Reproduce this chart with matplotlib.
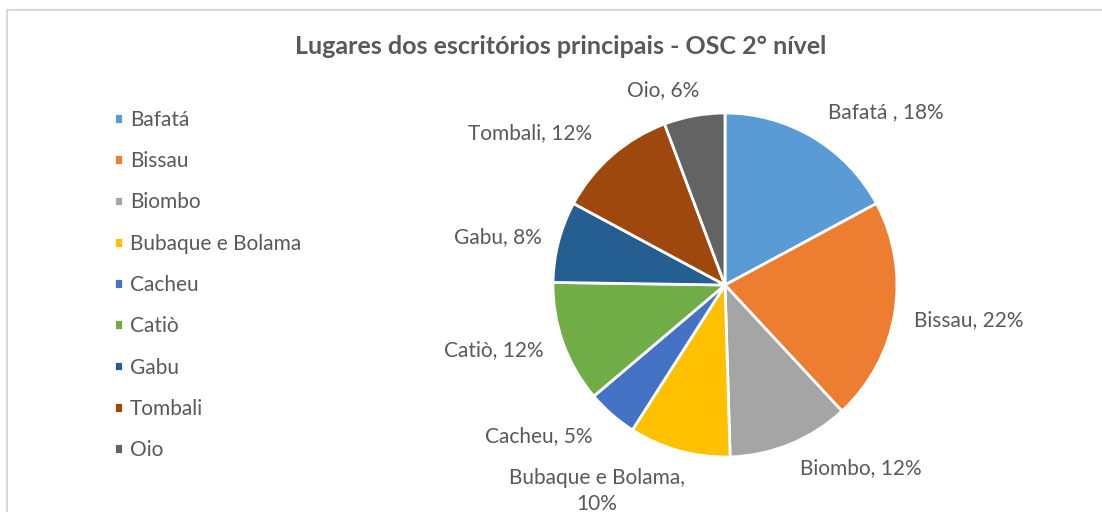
#!/usr/bin/env python3

import numpy as np
import matplotlib.pyplot as plt

plt.rcParams['font.family'] = ['Lato', 'DejaVu Sans']

# data
places = ['Bafatá', 'Bissau', 'Biombo', 'Bubaque e Bolama', 'Cacheu',
          'Catiò', 'Gabu', 'Tombali', 'Oio']
percent = [18, 22, 12, 10, 5, 12, 8, 12, 6]
label_texts = ['Bafatá , 18%', 'Bissau, 22%', 'Biombo, 12%',
               'Bubaque e Bolama,\n10%', 'Cacheu, 5%', 'Catiò, 12%',
               'Gabu, 8%', 'Tombali, 12%', 'Oio, 6%']

colors = ['#5B9BD5', '#ED7D31', '#A5A5A5', '#FFC000', '#4472C4',
          '#70AD47', '#255E91', '#9E480E', '#636363']
# label placement: radial distance plus small nudges (axes data units)
label_dist = [1.17, 1.115, 1.15, 1.2, 1.17, 1.12, 1.1, 1.17, 1.15]
label_dx = [0, 0, 0, 0.087, 0, 0, 0, 0, 0.058]
label_dy = [0, -0.022, 0, -0.04, 0, 0, 0, 0, 0]
txt_color = '#595959'

W, H = 1102, 512
fig = plt.figure(figsize=(W / 100, H / 100), dpi=100)

# chart area border (Excel style)
fig.patches.append(plt.Rectangle((7 / W, -0.1), 1.2, (H - 10) / H + 0.1,
                                 transform=fig.transFigure, fill=False,
                                 edgecolor='#D9D9D9', linewidth=1.5))

cx, cy, r = 725, 285, 172
ax = fig.add_axes([(cx - r) / W, (H - cy - r) / H, 2 * r / W, 2 * r / H])
wedges, _ = ax.pie(percent, colors=colors, startangle=90, counterclock=False,
                   radius=1, wedgeprops=dict(edgecolor='white', linewidth=2))
ax.set_xlim(-1, 1)
ax.set_ylim(-1, 1)
ax.set_aspect('equal')
ax.axis('off')

for w, txt, d, dx, dy in zip(wedges, label_texts, label_dist,
                             label_dx, label_dy):
    ang = np.deg2rad((w.theta1 + w.theta2) / 2)
    x, y = d * np.cos(ang), d * np.sin(ang)
    ha = 'left' if x > 0 else 'right'
    ax.text(x + dx, y + dy, txt, ha=ha, va='center', fontsize=15,
            color=txt_color, multialignment='center', linespacing=1.4,
            clip_on=False)

fig.text(561 / W, 1 - 46 / H, 'Lugares dos escritórios principais - OSC 2° nível',
         ha='center', va='center', fontsize=18, fontweight='bold',
         color=txt_color)

fig.legend(wedges, places, loc='upper left',
           bbox_to_anchor=(114 / W, 1 - 110 / H), frameon=False,
           borderpad=0, borderaxespad=0,
           fontsize=15, labelcolor=txt_color, handlelength=0.42,
           handleheight=0.42, handletextpad=0.33, labelspacing=1.02)

fig.savefig('out.png', dpi=100)
